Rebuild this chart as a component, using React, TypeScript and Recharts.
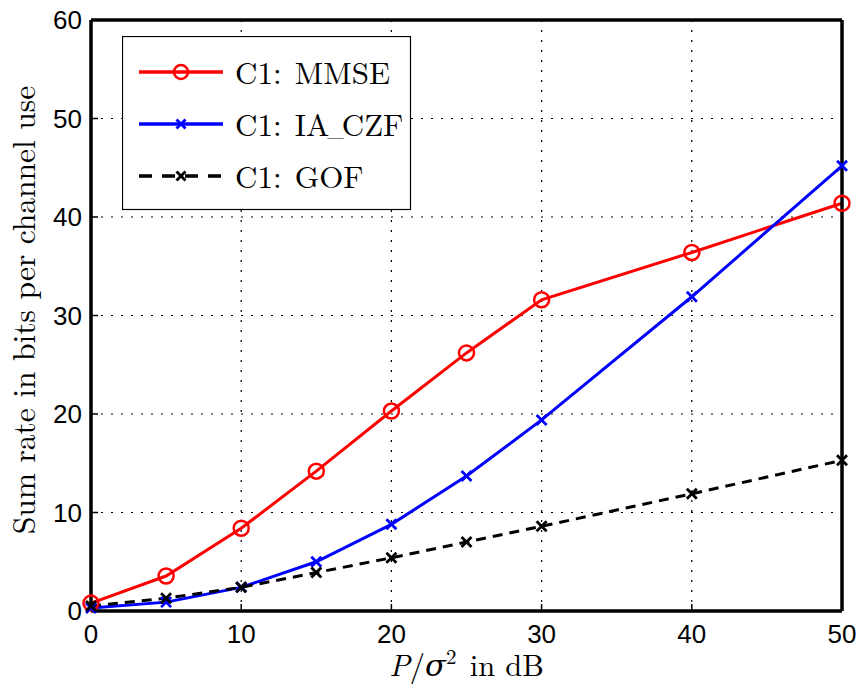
import React from 'react';
import { LineChart, Line, XAxis, YAxis, CartesianGrid, Legend } from 'recharts';

const snr = [0, 5, 10, 15, 20, 25, 30, 40, 50];
const mmse = [0.8, 3.55, 8.4, 14.2, 20.3, 26.2, 31.6, 36.4, 41.4];
const iaCzf = [0.3, 0.9, 2.4, 5.0, 8.8, 13.7, 19.4, 31.9, 45.2];
const gof = [0.5, 1.3, 2.4, 3.9, 5.4, 7.0, 8.6, 11.9, 15.3];
const xTicks = [0, 10, 20, 30, 40, 50];
const yTicks = [0, 10, 20, 30, 40, 50, 60];
const seriesNames = ['C1: MMSE', 'C1: IA_CZF', 'C1: GOF'];

const data = snr.map((x, i) => ({ x, mmse: mmse[i], ia: iaCzf[i], gof: gof[i] }));

const CircleDot = (props: any) => {
  const { cx, cy } = props;
  if (cx == null || cy == null) return null;
  return <circle cx={cx} cy={cy} r={7.5} fill="none" stroke="#ff0000" strokeWidth={2.5} />;
};

const makeCross = (color: string) => (props: any) => {
  const { cx, cy } = props;
  if (cx == null || cy == null) return null;
  const s = 5;
  return (
    <g stroke={color} strokeWidth={2.8}>
      <line x1={cx - s} y1={cy - s} x2={cx + s} y2={cy + s} />
      <line x1={cx - s} y1={cy + s} x2={cx + s} y2={cy - s} />
    </g>
  );
};
const BlueCross = makeCross('#0000ff');
const BlackCross = makeCross('#000000');

const serif = '"Latin Modern Roman", "CMU Serif", "DejaVu Serif", serif';
const sans = '"Liberation Sans", Arial, Helvetica, sans-serif';

const renderLabel = (value: string) => {
  const parts = value.split('_');
  if (parts.length < 2) return value;
  return (
    <>
      {parts[0]}
      <tspan dx={-2} fontSize={22}>_</tspan>
      <tspan dx={-2}>{parts.slice(1).join('_')}</tspan>
    </>
  );
};

const LegendBox = (props: any) => {
  const payload = [...(props.payload || [])].sort(
    (a: any, b: any) => seriesNames.indexOf(a.value) - seriesNames.indexOf(b.value));
  const rows = payload.map((p: any, i: number) => {
    const y = 36 + i * 52;
    const key = p.dataKey;
    let marker: any;
    if (key === 'mmse') marker = <circle cx={59} cy={y} r={7} fill="none" stroke="#ff0000" strokeWidth={2.5} />;
    else marker = (
      <g stroke={p.color} strokeWidth={2.8}>
        <line x1={54.5} y1={y - 4.5} x2={63.5} y2={y + 4.5} />
        <line x1={54.5} y1={y + 4.5} x2={63.5} y2={y - 4.5} />
      </g>
    );
    return (
      <g key={key}>
        <line x1={17} y1={y} x2={101} y2={y} stroke={p.color} strokeWidth={3.5}
          strokeDasharray={key === 'gof' ? '13 10' : undefined} />
        {marker}
        <text x={113} y={y + 12} fontFamily={serif} fontSize={31} wordSpacing={3} fill="#000">
          {renderLabel(p.value)}
        </text>
      </g>
    );
  });
  return (
    <svg width={290} height={175} style={{ display: 'block' }}>
      <rect x={0.5} y={0.5} width={288} height={173} fill="#fff" stroke="#000" strokeWidth={1.2} />
      {rows}
    </svg>
  );
};

const XLabel = (props: any) => {
  const vb = props.viewBox || {};
  const cx = vb.x + vb.width / 2;
  return (
    <text x={cx} y={676} textAnchor="middle" fontFamily={serif} fontSize={30.5} fill="#000">
      <tspan fontStyle="italic">P</tspan>
      <tspan>/</tspan>
      <tspan fontStyle="italic">σ</tspan>
      <tspan fontSize={21} dy={-12}>2</tspan>
      <tspan dy={12} dx={-2}>{'\u00a0in dB'}</tspan>
    </text>
  );
};

const YLabel = () => (
  <text x={0} y={0} transform="translate(35, 310) rotate(-90)" textAnchor="middle"
    fontFamily={serif} fontSize={31.5} fill="#000">
    Sum rate in bits per channel use
  </text>
);

const axisLine = { stroke: '#000', strokeWidth: 3.5 };
const tickLine = { stroke: '#000', strokeWidth: 1.5 };

export default function App() {
  return (
    <div style={{ position: 'absolute', left: 0, top: 0, width: 861, height: 684, background: '#fff' }}>
      <LineChart width={861} height={684} data={data}
        margin={{ top: 15, right: 14, bottom: 33, left: 31 }}>
        <CartesianGrid stroke="#000" strokeDasharray="2 8" strokeWidth={1.2}
          horizontalValues={yTicks} verticalValues={xTicks} />
        <XAxis dataKey="x" type="number" domain={[0, 50]} ticks={xTicks}
          axisLine={axisLine} tickLine={tickLine}
          tickSize={-7} tickMargin={21} height={40}
          tick={{ fontFamily: sans, fontSize: 26, fill: '#000' }} label={<XLabel />} />
        <XAxis xAxisId="top" orientation="top" dataKey="x" type="number" domain={[0, 50]} ticks={xTicks}
          axisLine={axisLine} tickLine={tickLine}
          tickSize={-7} tick={false} height={5} />
        <YAxis type="number" domain={[0, 60]} ticks={yTicks}
          axisLine={axisLine} tickLine={tickLine}
          tickSize={-7} tickMargin={16} width={60}
          tick={{ fontFamily: sans, fontSize: 26, fill: '#000' }} label={<YLabel />} />
        <YAxis yAxisId="right" orientation="right" type="number" domain={[0, 60]} ticks={yTicks}
          axisLine={axisLine} tickLine={tickLine}
          tickSize={-7} tick={false} width={5} />
        <Legend layout="vertical" verticalAlign="middle" align="center"
          wrapperStyle={{ position: 'absolute', left: 122, top: 36, width: 290, height: 175 }}
          content={<LegendBox />} />
        <Line dataKey="mmse" name={seriesNames[0]} stroke="#ff0000" strokeWidth={3}
          dot={<CircleDot />} activeDot={false} isAnimationActive={false} />
        <Line dataKey="ia" name={seriesNames[1]} stroke="#0000ff" strokeWidth={3}
          dot={<BlueCross />} activeDot={false} isAnimationActive={false} />
        <Line dataKey="gof" name={seriesNames[2]} stroke="#000000" strokeWidth={3} strokeDasharray="10 7"
          dot={<BlackCross />} activeDot={false} isAnimationActive={false} />
      </LineChart>
    </div>
  );
}
